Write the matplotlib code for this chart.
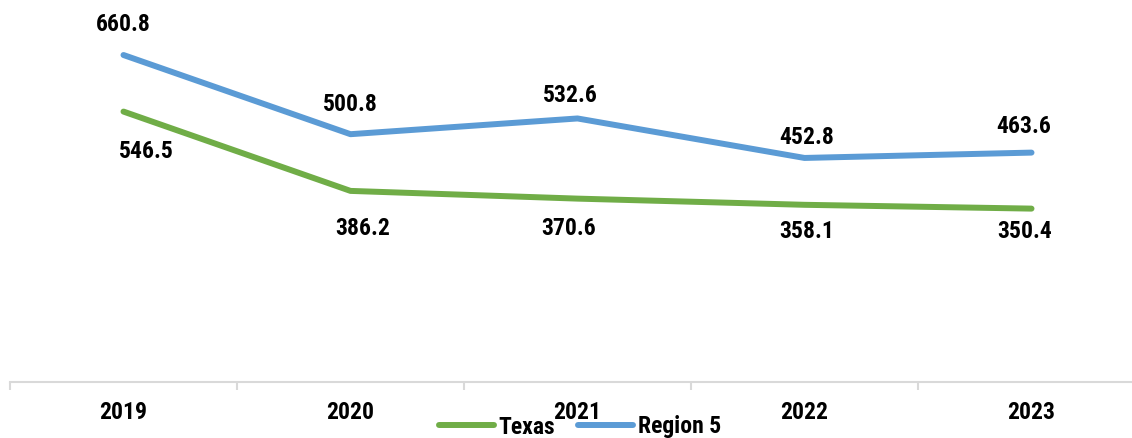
import numpy as np
import matplotlib.pyplot as plt
from matplotlib import font_manager

years = ["2019", "2020", "2021", "2022", "2023"]
texas = [546.5, 386.2, 370.6, 358.1, 350.4]
region5 = [660.8, 500.8, 532.6, 452.8, 463.6]

# label nudges in pixels (dx, dy), mimicking Excel's placement
texas_off = [(23, -40), (12, -38), (-9, -30), (2, -27), (-7, -23)]
region5_off = [(0, 31), (0, 30), (-7, 23), (2, 20), (-8, 26)]

names = {f.name for f in font_manager.fontManager.ttflist}
main_font = "Roboto Condensed"
for cand in ["Roboto Condensed", "PT Sans Narrow", "Liberation Sans Narrow", "Liberation Sans"]:
    if cand in names:
        main_font = cand
        break
plt.rcParams["font.family"] = [main_font, "DejaVu Sans"]
plt.rcParams["font.weight"] = "bold"

W, H = 1132, 438
fig = plt.figure(figsize=(W / 100, H / 100), dpi=100)
left, bottom, top = 10, 382, 0
right = left + 227 * 5
ax = fig.add_axes([left / W, (H - bottom) / H, (right - left) / W, (bottom - top) / H])

x = np.arange(len(years))
green = "#70AD47"
blue = "#5B9BD5"
ax.plot(x, texas, color=green, lw=4.3, solid_capstyle="round", label="Texas")
ax.plot(x, region5, color=blue, lw=4.3, solid_capstyle="round", label="Region 5")

fs = 17
for xi, v, (dx, dy) in zip(x, texas, texas_off):
    ax.annotate(f"{v:.1f}", (xi, v), xytext=(dx, dy), textcoords="offset pixels",
                ha="center", va="center", fontsize=fs, fontweight="bold")
for xi, v, (dx, dy) in zip(x, region5, region5_off):
    ax.annotate(f"{v:.1f}", (xi, v), xytext=(dx, dy), textcoords="offset pixels",
                ha="center", va="center", fontsize=fs, fontweight="bold")

ax.set_xlim(-0.5, len(years) - 0.5)
ax.set_ylim(0, 772)
ax.set_xticks(x)
ax.set_xticklabels(years, fontsize=fs, fontweight="bold")
ax.set_xticks(np.arange(-0.5, len(years)), minor=True)
ax.tick_params(axis="x", which="major", length=0, pad=14)
ax.tick_params(axis="x", which="minor", length=6, color="#d9d9d9", width=1.5)
ax.set_yticks([])
for s in ["top", "right", "left"]:
    ax.spines[s].set_visible(False)
ax.spines["bottom"].set_color("#d9d9d9")
ax.spines["bottom"].set_linewidth(1.5)

fig.legend(loc="center", bbox_to_anchor=(580 / W, 1 - 427 / H), ncol=2, frameon=False,
           fontsize=fs, handlelength=2.3, handletextpad=0.2, columnspacing=1.0,
           borderpad=0)

fig.savefig("out.png", dpi=100)
